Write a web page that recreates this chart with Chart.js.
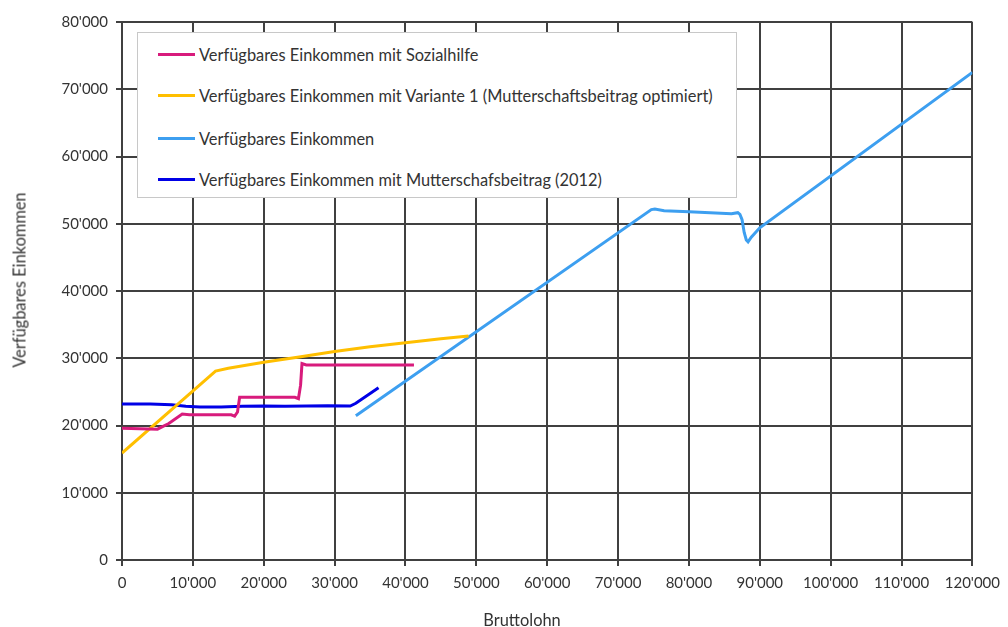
<!DOCTYPE html>
<html lang="de">
<head>
<meta charset="UTF-8">
<title>Verfügbares Einkommen nach Bruttolohn</title>
<script src="https://cdn.jsdelivr.net/npm/chart.js"></script>
<style>
  body { margin: 0; background: #fff; font-family: Lato, "Open Sans", sans-serif; color: #333; }
  #wrap { position: relative; width: 1008px; height: 627px; }
  #chart { position: absolute; left: 0; top: 0; }
  #legend {
    position: absolute; left: 137px; top: 32px; width: 600px; height: 166px;
    box-sizing: border-box; border: 1px solid #c8c8c8; background: #fff;
  }
  .item { position: absolute; left: 20px; height: 20px; display: flex; align-items: center; font-size: 16.4px; white-space: nowrap; }
  .swatch { width: 37px; height: 3px; margin-right: 4px; }
  .axis-title { position: absolute; font-size: 16.4px; white-space: nowrap; }
  #xtitle { left: 522px; top: 619px; transform: translate(-50%, -50%); }
  #ytitle { left: 19px; top: 280px; transform: translate(-50%, -50%) rotate(-90deg); }
</style>
</head>
<body>
<div id="wrap">
  <canvas id="chart" width="1008" height="627"></canvas>
  <div id="legend"></div>
  <div class="axis-title" id="xtitle">Bruttolohn</div>
  <div class="axis-title" id="ytitle">Verfügbares Einkommen</div>
</div>
<script>
// Bruttolohn (x) and verfügbares Einkommen (y), in CHF
const sozialhilfeX = [0, 2500, 5000, 6600, 8500, 9500, 15400, 15900, 16300, 16600, 17000, 24400, 24900, 25200, 25400, 26000, 41200];
const sozialhilfeY = [19600, 19500, 19450, 20300, 21700, 21600, 21600, 21400, 22000, 24200, 24200, 24200, 24000, 26000, 29200, 29000, 29000];

const variante1X = [0, 13200, 15000, 20000, 25000, 30000, 35000, 40000, 45000, 48900];
const variante1Y = [15900, 28100, 28500, 29400, 30200, 31000, 31700, 32300, 32900, 33300];

const einkommenX = [33000, 74700, 75200, 76500, 80000, 86000, 86900, 87200, 87500, 87800, 88100, 88350, 88800, 90000, 120000];
const einkommenY = [21450, 52100, 52200, 51950, 51800, 51500, 51650, 51400, 50600, 48700, 47600, 47300, 48000, 49400, 72500];

const mutterX = [0, 4000, 7000, 9000, 11000, 14000, 17000, 20000, 23000, 26000, 29000, 32200, 33000, 36200];
const mutterY = [23200, 23200, 23100, 22850, 22750, 22750, 22850, 22900, 22850, 22900, 22950, 22900, 23300, 25600];

const seriesLabels = [
  'Verfügbares Einkommen mit Sozialhilfe',
  'Verfügbares Einkommen mit Variante 1 (Mutterschaftsbeitrag optimiert)',
  'Verfügbares Einkommen',
  'Verfügbares Einkommen mit Mutterschafsbeitrag (2012)'
];
const seriesColors = ['#d81b7c', '#ffbf00', '#3d9ff0', '#0000e6'];

function points(xs, ys) {
  return xs.map((x, i) => ({ x: x, y: ys[i] }));
}

function swiss(v) {
  return String(v).replace(/\B(?=(\d{3})+(?!\d))/g, "'");
}

const seriesData = [
  points(sozialhilfeX, sozialhilfeY),
  points(variante1X, variante1Y),
  points(einkommenX, einkommenY),
  points(mutterX, mutterY)
];

const datasets = seriesData.map((d, i) => ({
  label: seriesLabels[i],
  data: d,
  borderColor: seriesColors[i],
  backgroundColor: seriesColors[i],
  borderWidth: 3,
  pointRadius: 0,
  tension: 0,
  fill: false
}));

// legend box inside the plot
const legend = document.getElementById('legend');
const rowTops = [11, 52, 95, 136];
seriesLabels.forEach((label, i) => {
  const row = document.createElement('div');
  row.className = 'item';
  row.style.top = rowTops[i] + 'px';
  row.innerHTML = '<span class="swatch" style="background:' + seriesColors[i] + '"></span><span>' + label + '</span>';
  legend.appendChild(row);
});

const gridColor = '#404040';
const tickFont = { family: 'Lato, "Open Sans", sans-serif', size: 15 };

new Chart(document.getElementById('chart'), {
  type: 'line',
  data: { datasets: datasets },
  options: {
    responsive: false,
    animation: false,
    layout: { padding: { left: 0, right: 33, top: 22, bottom: 0 } },
    plugins: { legend: { display: false }, tooltip: { enabled: false } },
    scales: {
      x: {
        type: 'linear',
        min: 0,
        max: 120000,
        ticks: { stepSize: 10000, padding: 8, color: '#333', font: tickFont, maxRotation: 0, callback: v => swiss(v) },
        grid: { color: gridColor, lineWidth: 2, tickLength: 6 },
        border: { color: gridColor, width: 2 },
        afterFit: s => { s.height = 67; }
      },
      y: {
        min: 0,
        max: 80000,
        ticks: { stepSize: 10000, padding: 8, color: '#333', font: tickFont, callback: v => swiss(v) },
        grid: { color: gridColor, lineWidth: 2, tickLength: 6 },
        border: { color: gridColor, width: 2 },
        afterFit: s => { s.width = 122; }
      }
    }
  }
});
</script>
</body>
</html>
